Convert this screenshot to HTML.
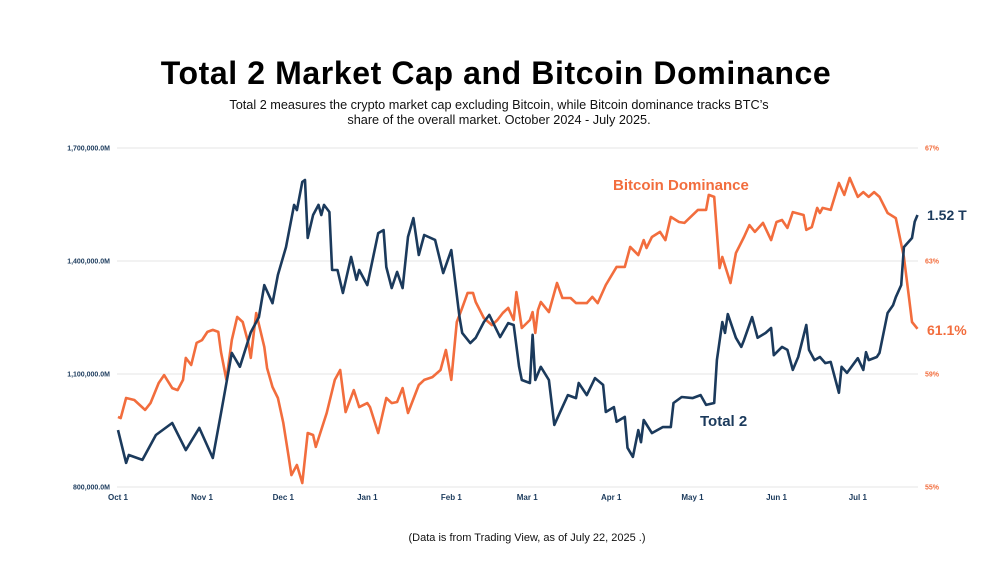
<!DOCTYPE html>
<html><head><meta charset="utf-8"><style>
body{margin:0;background:#fff;width:1000px;height:563px;overflow:hidden;font-family:"Liberation Sans",sans-serif}
</style></head><body>
<svg width="1000" height="563">
<text x="496" y="84" text-anchor="middle" font-size="32" font-weight="bold" letter-spacing="0.6" fill="#000">Total 2 Market Cap and Bitcoin Dominance</text>
<text x="499" y="109" text-anchor="middle" font-size="12.7" fill="#111">Total 2 measures the crypto market cap excluding Bitcoin, while Bitcoin dominance tracks BTC’s</text>
<text x="499" y="124" text-anchor="middle" font-size="12.7" fill="#111">share of the overall market. October 2024 - July 2025.</text>
<g id="grid"></g>
<g id="axes"></g>
<g id="lines"></g>
<text x="613" y="190" font-size="15" font-weight="bold" fill="#f26d3d">Bitcoin Dominance</text>
<text x="700" y="426" font-size="15" font-weight="bold" fill="#1b3a5c">Total 2</text>
<text x="927" y="220" font-size="14" font-weight="bold" fill="#1b3a5c">1.52 T</text>
<text x="927" y="335" font-size="14" font-weight="bold" fill="#f26d3d">61.1%</text>
<text x="527" y="541" text-anchor="middle" font-size="11" fill="#111">(Data is from Trading View, as of July 22, 2025 .)</text>
</svg>
<script>
const xTickLabels=["Oct 1","Nov 1","Dec 1","Jan 1","Feb 1","Mar 1","Apr 1","May 1","Jun 1","Jul 1"];
const xTickDays=[0,31,61,92,123,151,182,212,243,273];
const leftTicks=[800000,1100000,1400000,1700000];
const leftTickLabels=["800,000.0M","1,100,000.0M","1,400,000.0M","1,700,000.0M"];
const rightTicks=[55,59,63,67];
const rightTickLabels=["55%","59%","63%","67%"];
const t2Days=[0,3,4,9,14,20,25,30,35,38,42,45,49,52,54,57,59,62,65,66,68,69,70,72,74,75,76,78,79,81,83,86,88,89,92,96,98,99,101,103,105,107,109,111,113,117,120,123,126,127,130,132,135,137,141,144,146,148,149,152,153,154,156,159,161,164,166,169,170,173,176,179,180,183,184,187,188,190,192,193,194,197,201,204,205,208,212,215,217,220,221,223,224,225,228,230,231,234,236,239,241,242,245,247,249,251,254,255,257,259,261,263,266,267,269,273,275,276,277,280,281,284,286,287,289,290,293,294,295];
const t2Values=[951,864,885,872,938,970,898,957,877,996,1156,1119,1211,1251,1336,1288,1363,1437,1549,1535,1610,1615,1461,1522,1549,1522,1549,1530,1376,1376,1315,1411,1350,1376,1336,1474,1482,1384,1328,1371,1328,1464,1514,1416,1469,1456,1368,1429,1251,1209,1182,1196,1238,1257,1198,1235,1230,1119,1084,1076,1204,1084,1119,1084,965,1012,1044,1036,1076,1044,1089,1071,999,1012,973,986,904,880,951,919,978,943,959,959,1023,1039,1036,1044,1018,1023,1137,1238,1209,1259,1196,1172,1190,1251,1196,1209,1222,1150,1172,1164,1111,1145,1230,1164,1137,1145,1129,1132,1050,1119,1103,1142,1111,1158,1137,1145,1156,1262,1283,1304,1336,1437,1461,1504,1522];
const domDays=[0,1,3,6,10,12,15,17,20,22,24,25,27,29,31,33,35,37,38,40,42,44,46,48,49,51,54,55,57,59,61,63,64,66,68,70,72,73,77,80,82,84,87,89,92,93,96,99,101,103,105,107,111,113,116,119,121,123,125,127,129,131,132,135,138,140,142,144,146,147,149,152,153,154,155,156,159,162,164,167,169,173,175,177,180,184,187,189,192,194,195,197,200,202,204,207,209,214,217,218,220,222,223,226,228,231,233,235,238,241,243,245,247,249,253,254,256,258,259,260,263,266,268,270,273,275,277,279,281,284,287,290,292,293,295];
const domValues=[57.48,57.44,58.15,58.08,57.73,57.97,58.68,58.96,58.5,58.43,58.79,59.57,59.32,60.1,60.2,60.49,60.56,60.49,59.78,58.79,60.2,61.02,60.84,60.13,59.57,61.16,59.96,59.21,58.54,58.15,57.27,56.06,55.42,55.78,55.14,56.91,56.84,56.42,57.62,58.79,59.14,57.65,58.43,57.83,57.97,57.83,56.91,58.15,57.97,58.01,58.5,57.62,58.61,58.79,58.89,59.14,59.85,58.79,60.84,61.34,61.87,61.87,61.55,60.98,60.73,60.91,61.16,61.34,60.91,61.9,60.63,60.91,61.19,60.45,61.27,61.55,61.19,62.22,61.69,61.69,61.51,61.51,61.73,61.51,62.15,62.79,62.79,63.5,63.21,63.74,63.46,63.85,64.03,63.74,64.56,64.38,64.35,64.81,64.81,65.34,65.27,62.75,63.14,62.22,63.28,63.85,64.27,64.03,64.35,63.74,64.38,64.45,64.17,64.73,64.63,64.1,64.2,64.88,64.7,64.88,64.81,65.76,65.34,65.94,65.27,65.44,65.27,65.44,65.27,64.7,64.52,63.14,61.62,60.84,60.6];

const NS="http://www.w3.org/2000/svg";
const X0=118,DAYPX=2.71,YT=148,YB=487;
function xs(d){return X0+d*DAYPX;}
function yl(v){return YB-(v-800000)/900000*(YB-YT);}
function yr(p){return YB-(p-55)/12*(YB-YT);}
function mk(tag,attrs,parent){const e=document.createElementNS(NS,tag);for(const k in attrs)e.setAttribute(k,attrs[k]);parent.appendChild(e);return e;}
const grid=document.getElementById('grid'),axes=document.getElementById('axes'),lines=document.getElementById('lines');
leftTicks.forEach((v,i)=>{
  const y=yl(v);
  const g=mk('line',{x1:117,x2:918,y1:y,y2:y,stroke:'#e6e6e6','stroke-width':1},grid);
  
  
  const t=mk('text',{x:110,y:y+2.5,'text-anchor':'end','font-size':7,'font-weight':'bold',fill:'#1b3a5c'},axes);
  t.textContent=leftTickLabels[i];
  
  
});
rightTicks.forEach((p,i)=>{
  const t=mk('text',{x:925,y:yr(p)+2.5,'font-size':7,'font-weight':'bold',fill:'#f26d3d'},axes);
  t.textContent=rightTickLabels[i];
  
  
});
xTickDays.forEach((d,i)=>{
  const t=mk('text',{x:xs(d),y:500,'text-anchor':'middle','font-size':8,'font-weight':'bold',fill:'#1b3a5c'},axes);
  t.textContent=xTickLabels[i];
  
  
});
const dPts=domDays.map((d,i)=>xs(d).toFixed(1)+','+yr(domValues[i]).toFixed(1)).join(' ');
const dl=mk('polyline',{points:dPts,fill:'none',stroke:'#f26d3d','stroke-width':2.6,'stroke-linejoin':'round'},lines);


const tPts=t2Days.map((d,i)=>xs(d).toFixed(1)+','+yl(t2Values[i]*1000).toFixed(1)).join(' ');
const tl=mk('polyline',{points:tPts,fill:'none',stroke:'#1b3a5c','stroke-width':2.6,'stroke-linejoin':'round'},lines);


</script>
</body></html>
